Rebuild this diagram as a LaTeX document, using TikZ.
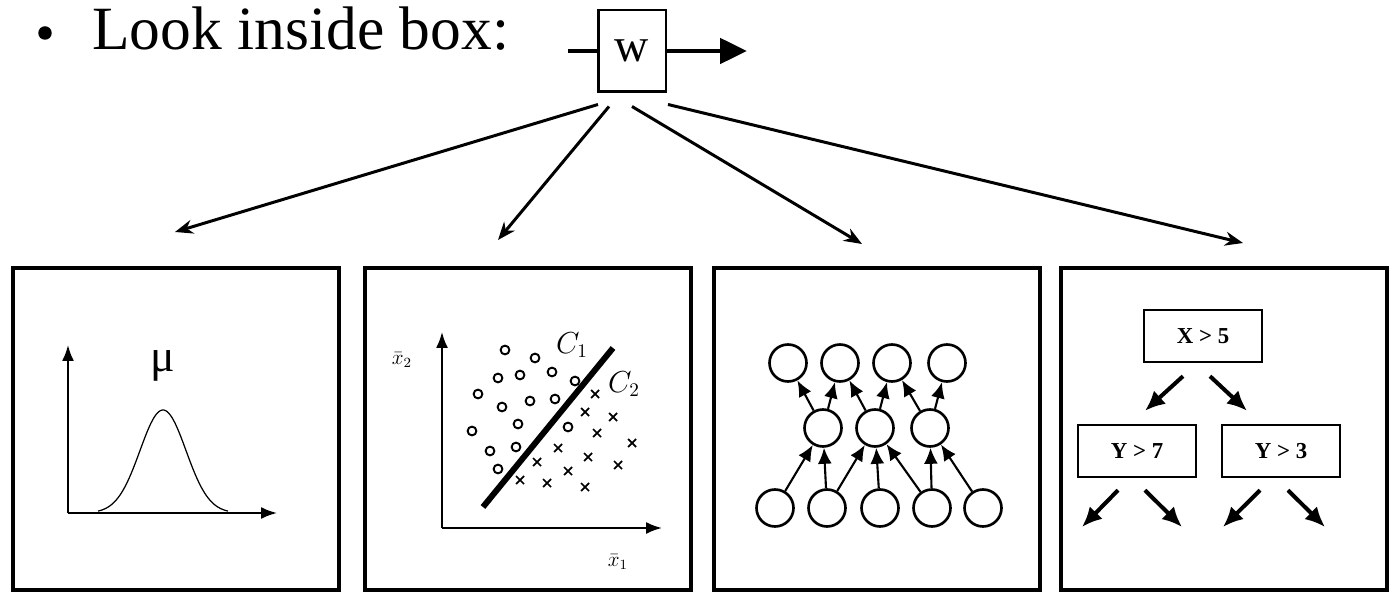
\documentclass[tikz,border=0pt]{standalone}
\usepackage{fontspec}
\setmainfont{Liberation Serif}
\usepackage{tikz}
\usetikzlibrary{arrows.meta, positioning, calc}

\begin{document}
\begin{tikzpicture}[x=0.02cm, y=-0.02cm, >=Stealth,
			panel/.style={draw, line width=2.3pt, minimum width=6.52cm, minimum height=6.44cm, inner sep=0pt},
			wbox/.style={draw, line width=1.7pt, minimum width=1.36cm, minimum height=1.64cm, inner sep=0pt, font=\fontsize{27}{27}\selectfont},
			fan/.style={-{Stealth[length=0.36cm, width=0.28cm]}, line width=1.7pt},
			axis/.style={-{Latex[length=0.32cm, width=0.24cm]}, line width=1.1pt},
			neuron/.style={circle, draw, line width=1.5pt, minimum size=0.74cm, inner sep=0pt},
			synapse/.style={-{Latex[length=0.32cm, width=0.28cm]}, line width=1.2pt},
			test/.style={draw, line width=1.4pt, minimum width=2.36cm, minimum height=1.04cm, inner sep=0pt, font=\fontsize{13}{13}\selectfont\bfseries},
			branch/.style={-{Latex[length=0.4cm, width=0.36cm]}, line width=2.3pt},
			label/.style={font=\small, align=center}
			]
			
			\useasboundingbox (0,0) rectangle (1389,594);
			
			% 1. Heading with the black box
			\node[circle, fill, inner sep=0pt, minimum size=0.27cm] (bullet) at (45,33) {};
			\node[anchor=base west, font=\fontsize{35}{35}\selectfont, inner sep=0pt] (title) at (92,50) {Look inside box:};
			\node[wbox] (w) at (632,51) {w};
			\coordinate (win) at (568,51);
			\coordinate (wout) at (747,51);
			\draw[line width=2.8pt] (win) -- (w.west);
			\draw[line width=2.8pt, -{Triangle[length=0.54cm, width=0.5cm]}] (w.east) -- (wout);
			
			% 2. Four panels
			\node[panel] (panelA) at (176,429) {};
			\node[panel] (panelB) at (528,429) {};
			\node[panel] (panelC) at (877,429) {};
			\node[panel] (panelD) at (1224,429) {};
			
			% Arrows fanning out of the box
			\coordinate (tipA) at (175,232);
			\coordinate (tipB) at (498,240);
			\coordinate (tipC) at (862,244);
			\coordinate (tipD) at (1243,243);
			\draw[fan] ($(w.south)+(-34,11)$) -- (tipA);
			\draw[fan] ($(w.south)+(-23,13)$) -- (tipB);
			\draw[fan] ($(w.south)+(0,13)$) -- (tipC);
			\draw[fan] ($(w.south)+(36,11)$) -- (tipD);
			
			% 3. Panel A: a distribution
			\coordinate (orgA) at (68,513);
			\coordinate (yA) at (68,345);
			\coordinate (xA) at (277,513);
			\draw[axis] (orgA) -- (yA);
			\draw[axis] (orgA) -- (xA);
			\draw[line width=0.7pt] plot[domain=98:228, samples=80, smooth] (\x, {513-103*exp(-((\x-163)/23)^2/2)});
			\node[font=\fontsize{26}{26}\selectfont] (mu) at (163,366) {μ};
			
			% 4. Panel B: a linear classifier
			\coordinate (orgB) at (442,528);
			\coordinate (yB) at (442,332);
			\coordinate (xB) at (662,528);
			\draw[axis] (orgB) -- (yB);
			\draw[axis] (orgB) -- (xB);
			\coordinate (sepS) at (483,507);
			\coordinate (sepN) at (613,348);
			\draw[line width=3.4pt] (sepS) -- (sepN);
			\foreach \p in {(505,350),(535,358),(552,372),(498,378),(520,375),(575,381),(478,394),(502,407),(530,401),(555,399),(518,424),(472,431),(568,427),(490,451),(516,447),(498,469)}
				\draw[line width=1.1pt] \p circle (2.5pt);
			\foreach \p in {(595,394),(585,412),(613,417),(597,433),(632,443),(558,448),(588,457),(618,465),(537,462),(568,471),(520,480),(547,483),(585,487)}
				\draw[line width=1pt] \p +(-4,-4) -- +(4,4) +(-4,4) -- +(4,-4);
			\node[font=\fontsize{12}{12}\selectfont] (xtwo) at (402,360) {$\bar{x}_2$};
			\node[font=\fontsize{12}{12}\selectfont] (xone) at (618,562) {$\bar{x}_1$};
			\node[font=\fontsize{16}{16}\selectfont] (cone) at (572,345) {$C_1$};
			\node[font=\fontsize{16}{16}\selectfont] (ctwo) at (624,384) {$C_2$};
			
			% 5. Panel C: a neural network
			\foreach \x [count=\i] in {788,840,892,947}
				\node[neuron] (t\i) at (\x,363) {};
			\foreach \x [count=\i] in {823,875,930}
				\node[neuron] (m\i) at (\x,428) {};
			\foreach \x [count=\i] in {775,827,880,932,983}
				\node[neuron] (b\i) at (\x,508) {};
			\foreach \s/\t in {b1/m1,b2/m1,b2/m2,b3/m2,b4/m2,b4/m3,b5/m3,m1/t1,m1/t2,m2/t2,m2/t3,m3/t3,m3/t4}
				\draw[synapse] (\s) -- (\t);
			
			% 6. Panel D: a decision tree
			\node[test] (root) at (1203,336) {X > 5};
			\node[test] (left) at (1137,451) {Y > 7};
			\node[test] (right) at (1281,451) {Y > 3};
			\draw[branch] ($(root.south)+(-20,13)$) -- ($(left.north)+(8,-13)$);
			\draw[branch] ($(root.south)+(7,13)$) -- ($(right.north)+(-34,-13)$);
			\coordinate (leafA) at (1082,527);
			\coordinate (leafB) at (1182,527);
			\coordinate (leafC) at (1223,527);
			\coordinate (leafD) at (1325,527);
			\draw[branch] ($(left.south)+(-19,12)$) -- (leafA);
			\draw[branch] ($(left.south)+(8,12)$) -- (leafB);
			\draw[branch] ($(right.south)+(-21,12)$) -- (leafC);
			\draw[branch] ($(right.south)+(7,12)$) -- (leafD);
			
		\end{tikzpicture}
\end{document}
